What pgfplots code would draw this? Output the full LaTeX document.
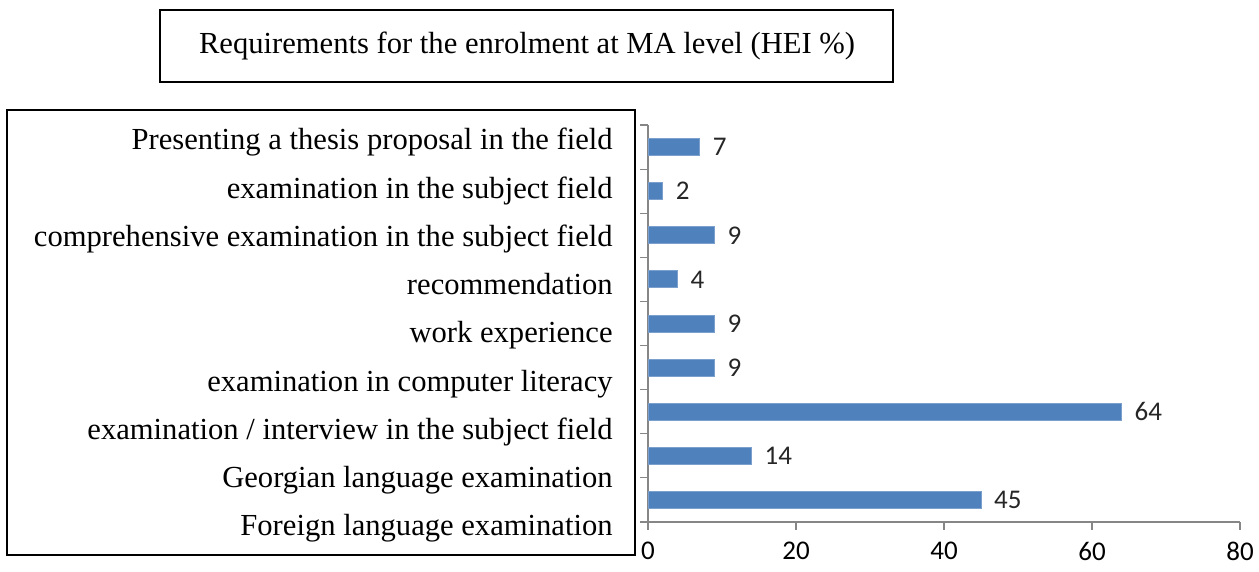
\documentclass[border=0pt]{standalone}
\usepackage{pgfplots}
\pgfplotsset{compat=1.18}
\usepackage{fontspec}
\setmainfont{Liberation Serif}
\newfontfamily\carlito{Carlito}
\definecolor{barblue}{HTML}{4F81BD}
\definecolor{axgray}{HTML}{868686}
\begin{document}
\begin{tikzpicture}
\useasboundingbox (0,0) rectangle (629.5pt,286pt);
\draw[line width=0.8pt] (80pt,245pt) rectangle (446.5pt,281pt);
\node[font=\fontsize{15.3}{17}\selectfont] at (263.5pt,263pt) {Requirements for the enrolment at MA level (HEI \%)};
\draw[line width=0.8pt] (3.5pt,8.5pt) rectangle (317.5pt,231pt);
\foreach \t [count=\i from 0] in {{Presenting a thesis proposal in the field},{examination in the subject field},{comprehensive examination in the subject field},{recommendation},{work experience},{examination in computer literacy},{examination / interview in the subject field},{Georgian language examination},{Foreign language examination}}{
  \node[anchor=base east, inner sep=0pt, font=\fontsize{15.3}{17}\selectfont] at (306.5pt, {211pt-24.125pt*\i}) {\t};
}
\begin{axis}[
  at={(324pt,25pt)}, anchor=south west, scale only axis,
  width=296pt, height=198.5pt,
  xmin=0, xmax=80, ymin=-0.5, ymax=8.5,
  xtick={0,20,...,80},
  ytick={-0.5,0.5,...,8.5}, yticklabels={},
  axis x line*=bottom, axis y line*=left,
  axis line style={axgray, line width=0.6pt},
  tick style={axgray, line width=0.6pt},
  tick align=outside, major tick length=4pt,
  xticklabel style={font=\carlito\fontsize{13.5}{15}\selectfont, text=black, yshift=-5pt, inner sep=1pt},
  /pgf/number format/assume math mode=true,
  xbar, bar width=0.385,
  nodes near coords,
  nodes near coords style={font=\carlito\fontsize{13.5}{15}\selectfont, text=black!85, anchor=west, xshift=3pt},
  clip=false,
]
\addplot[fill=barblue, draw=barblue!75!white, line width=0.4pt] coordinates {(45,0) (14,1) (64,2) (9,3) (9,4) (4,5) (9,6) (2,7) (7,8)};
\end{axis}
\end{tikzpicture}
\end{document}
